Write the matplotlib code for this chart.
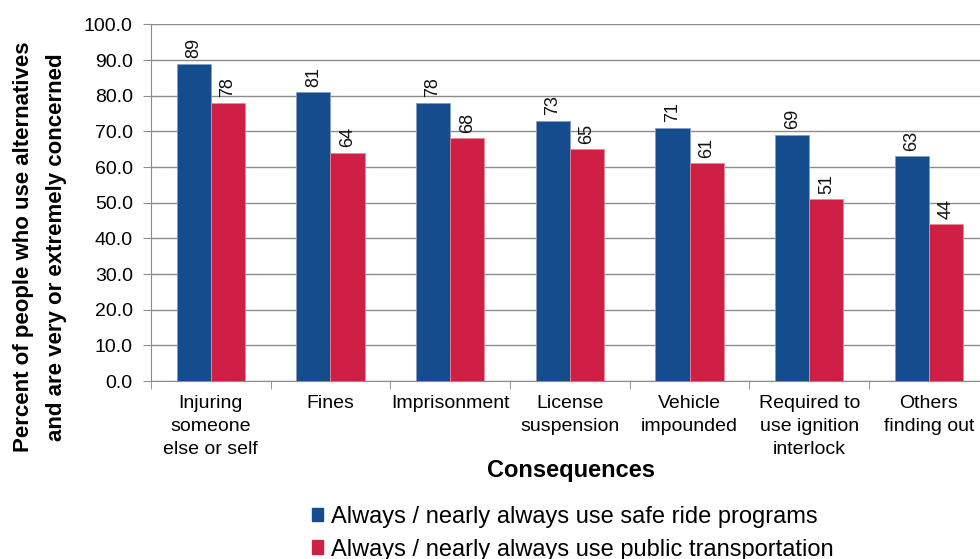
import matplotlib
matplotlib.use("Agg")
import matplotlib.pyplot as plt
import numpy as np
from matplotlib.patches import Patch

plt.rcParams['font.family'] = ['Liberation Sans', 'DejaVu Sans']

categories = ["Injuring\nsomeone\nelse or self", "Fines", "Imprisonment",
              "License\nsuspension", "Vehicle\nimpounded",
              "Required to\nuse ignition\ninterlock", "Others\nfinding out"]
safe_ride = [89, 81, 78, 73, 71, 69, 63]
public_transport = [78, 64, 68, 65, 61, 51, 44]
series_names = ["Always / nearly always use safe ride programs",
                "Always / nearly always use public transportation"]

blue = "#154C8D"
red = "#D01F45"
grid_grey = "#8c8c8c"

fig = plt.figure(figsize=(9.8, 5.59), dpi=100)
ax = fig.add_axes([0.154, 0.3184, 0.855, 0.638])

x = np.arange(len(categories))
w = 0.285
b1 = ax.bar(x - w / 2, safe_ride, w, color=blue, edgecolor="#8a9cc0", linewidth=0.6, zorder=3)
b2 = ax.bar(x + w / 2, public_transport, w, color=red, edgecolor="#e08a9c", linewidth=0.6, zorder=3)

for bars, vals in ((b1, safe_ride), (b2, public_transport)):
    for r, v in zip(bars, vals):
        ax.annotate(f"{v}", (r.get_x() + r.get_width() / 2, v), xytext=(0, 4),
                    textcoords="offset points", rotation=90, ha="center", va="bottom",
                    fontsize=13, color="#111111")

ax.set_xlim(-0.5, len(categories) - 0.5)
ax.set_ylim(0, 100)
ax.set_yticks(np.arange(0, 101, 10))
ax.set_yticklabels([f"{v:.1f}" for v in np.arange(0, 101, 10)], fontsize=14)
ax.yaxis.grid(True, color=grid_grey, linewidth=1.0, zorder=0)
ax.set_axisbelow(True)

ax.set_xticks(x)
ax.set_xticklabels(categories, fontsize=14, linespacing=1.45)
ax.tick_params(axis="x", length=0, pad=10)
ax.set_xticks(np.arange(-0.5, len(categories), 1), minor=True)
ax.tick_params(axis="x", which="minor", length=6, color=grid_grey, direction="out")
ax.tick_params(axis="y", length=6, color=grid_grey, pad=7)

for s in ("top", "right"):
    ax.spines[s].set_visible(False)
for s in ("left", "bottom"):
    ax.spines[s].set_color(grid_grey)

fig.text(571 / 980, 1 - 471 / 559, "Consequences", fontsize=17, fontweight="bold",
         ha="center", va="center")
fig.text(40 / 980, 1 - 247 / 559,
         "Percent of people who use alternatives\nand are very or extremely concerned",
         fontsize=16, fontweight="bold", rotation=90, ha="center", va="center",
         multialignment="center", linespacing=1.8)

handles = [Patch(color=blue), Patch(color=red)]
fig.legend(handles, series_names, loc="upper left", bbox_to_anchor=(0.318, 0.095),
           frameon=False, fontsize=17, handlelength=0.5, handleheight=0.5,
           handletextpad=0.3, labelspacing=0.45, borderaxespad=0, borderpad=0)

fig.savefig("out.png", dpi=100)
